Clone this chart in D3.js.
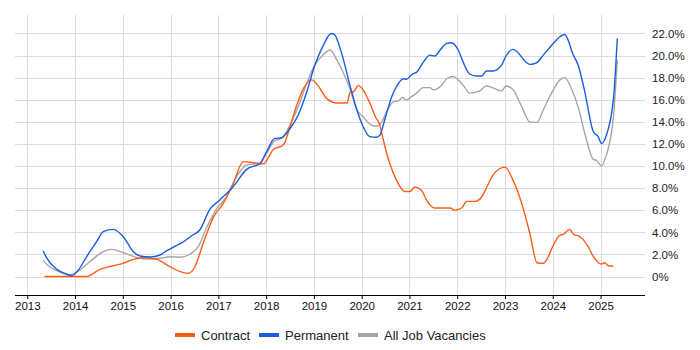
<!DOCTYPE html>
<html>

<head>
	<title>Contract, permanent and all job vacancies</title>
	<script src="https://cdn.jsdelivr.net/npm/d3@7/dist/d3.min.js"></script>
	<style>
		body { margin: 0; background: #fff; }
		svg { font-family: Arial, "Liberation Sans", sans-serif; }
		.grid line { stroke: #dcdcdc; stroke-width: 1px; shape-rendering: crispEdges; }
		.series { fill: none; stroke-width: 1.4px; }
	</style>
</head>

<body>
	<svg id="chart" width="700" height="350"></svg>

	<script>
		// [decimal year, % share]
		var contract = [
			[2013.36, 0], [2013.8, 0], [2014.24, 0], [2014.52, 0.65], [2014.8, 0.98], [2015.0, 1.19],
			[2015.22, 1.55], [2015.43, 1.7], [2015.71, 1.55], [2015.99, 0.89], [2016.2, 0.44],
			[2016.37, 0.29], [2016.51, 0.89], [2016.68, 3.0], [2016.9, 5.4], [2017.1, 6.6],
			[2017.31, 8.4], [2017.52, 10.4], [2017.73, 10.3], [2017.94, 10.2], [2018.15, 11.5],
			[2018.36, 11.9], [2018.5, 13.6], [2018.64, 15.5], [2018.78, 17.0], [2018.95, 17.8],
			[2019.13, 17.0], [2019.27, 16.1], [2019.48, 15.7], [2019.69, 15.7], [2019.76, 16.7],
			[2019.82, 16.7], [2019.93, 17.3], [2020.03, 16.9], [2020.17, 15.7], [2020.28, 14.5],
			[2020.38, 13.7], [2020.45, 12.4], [2020.59, 10.2], [2020.73, 8.7], [2020.9, 7.7],
			[2021.01, 7.7], [2021.11, 8.1], [2021.25, 7.8], [2021.36, 6.9], [2021.53, 6.2],
			[2021.67, 6.2], [2021.85, 6.2], [2021.95, 6.0], [2022.09, 6.2], [2022.2, 6.8],
			[2022.37, 6.8], [2022.51, 7.2], [2022.62, 8.1], [2022.75, 9.2], [2023.0, 9.9],
			[2023.17, 8.7], [2023.35, 6.6], [2023.52, 3.9], [2023.67, 1.25], [2023.79, 1.19],
			[2023.87, 1.49], [2023.98, 2.55], [2024.15, 3.75], [2024.22, 3.82], [2024.35, 4.27],
			[2024.46, 3.75], [2024.53, 3.7], [2024.74, 2.7], [2024.85, 1.8], [2025.02, 1.13],
			[2025.09, 1.25], [2025.16, 0.98], [2025.27, 0.95]
		];

		var permanent = [
			[2013.33, 2.34], [2013.41, 1.65], [2013.62, 0.65], [2013.82, 0.23], [2013.93, 0.07],
			[2014.07, 0.59], [2014.24, 1.79], [2014.45, 3.15], [2014.59, 4.06], [2014.8, 4.27],
			[2015.01, 3.6], [2015.22, 2.25], [2015.36, 1.86], [2015.57, 1.77], [2015.78, 1.95],
			[2015.92, 2.34], [2016.13, 2.82], [2016.27, 3.15], [2016.44, 3.69], [2016.61, 4.21],
			[2016.82, 6.08], [2017.03, 6.93], [2017.31, 8.13], [2017.59, 9.7], [2017.87, 10.24],
			[2018.01, 11.3], [2018.18, 12.5], [2018.32, 12.56], [2018.5, 13.4], [2018.67, 14.6],
			[2018.85, 16.7], [2019.02, 19.15], [2019.2, 20.95], [2019.36, 22.0], [2019.43, 21.9],
			[2019.58, 20.2], [2019.76, 17.2], [2019.9, 15.07], [2020.0, 13.87], [2020.17, 12.66],
			[2020.31, 12.6], [2020.38, 12.8], [2020.49, 14.3], [2020.63, 16.3], [2020.73, 17.2],
			[2020.87, 17.9], [2020.94, 17.85], [2021.05, 18.3], [2021.15, 18.5], [2021.29, 19.4],
			[2021.43, 20.04], [2021.53, 19.96], [2021.64, 20.5], [2021.78, 21.1], [2021.88, 21.16],
			[2022.02, 20.5], [2022.12, 19.44], [2022.26, 18.33], [2022.4, 18.15], [2022.51, 18.15],
			[2022.61, 18.6], [2022.75, 18.6], [2022.93, 19.15], [2023.02, 19.96], [2023.17, 20.56],
			[2023.52, 19.2], [2023.66, 19.34], [2023.8, 20.04], [2024.01, 21.1], [2024.15, 21.7],
			[2024.25, 21.9], [2024.43, 20.04], [2024.53, 19.15], [2024.67, 16.72], [2024.85, 13.1],
			[2024.95, 12.66], [2025.02, 12.05], [2025.11, 12.66], [2025.27, 16.1], [2025.35, 21.55]
		];

		var allJobs = [
			[2013.33, 1.49], [2013.44, 0.98], [2013.62, 0.53], [2013.89, 0.14], [2014.1, 0.59],
			[2014.31, 1.34], [2014.59, 2.25], [2014.77, 2.46], [2015.01, 2.15], [2015.29, 1.74],
			[2015.5, 1.58], [2015.78, 1.65], [2015.99, 1.79], [2016.2, 1.74], [2016.41, 2.04],
			[2016.58, 2.7], [2016.76, 4.5], [2016.97, 6.17], [2017.17, 7.22], [2017.38, 9.03],
			[2017.59, 10.1], [2017.87, 10.24], [2018.01, 11.15], [2018.18, 12.3], [2018.32, 12.5],
			[2018.5, 13.7], [2018.67, 15.37], [2018.85, 17.5], [2019.02, 19.15], [2019.2, 20.1],
			[2019.34, 20.5], [2019.48, 19.6], [2019.62, 18.4], [2019.76, 16.9], [2019.9, 15.07],
			[2020.03, 14.46], [2020.17, 13.8], [2020.31, 13.6], [2020.42, 14.0], [2020.52, 14.9],
			[2020.66, 15.8], [2020.77, 15.9], [2020.86, 16.2], [2020.93, 15.97], [2021.05, 16.3],
			[2021.15, 16.6], [2021.29, 17.1], [2021.43, 17.1], [2021.5, 16.9], [2021.67, 17.3],
			[2021.78, 17.9], [2021.92, 18.1], [2022.02, 17.8], [2022.16, 17.1], [2022.26, 16.6],
			[2022.47, 16.8], [2022.61, 17.25], [2022.93, 16.8], [2023.02, 17.25], [2023.17, 16.9],
			[2023.35, 15.37], [2023.52, 14.0], [2023.67, 13.95], [2023.8, 15.07], [2024.01, 16.9],
			[2024.15, 17.8], [2024.25, 18.0], [2024.39, 17.0], [2024.53, 15.37], [2024.67, 12.95],
			[2024.85, 10.6], [2024.92, 10.5], [2025.02, 10.0], [2025.11, 10.85], [2025.27, 14.5],
			[2025.35, 19.6]
		];

		var yearTicks = d3.range(2013, 2026);
		var pctTicks = d3.range(0, 23, 2);
		var legendNames = ['Contract', 'Permanent', 'All Job Vacancies'];
		var colors = ['#ff5c17', '#1a5cdf', '#a6a6a6'];

		var svg = d3.select('#chart'),
			plotLeft = 15, plotRight = 645, plotTop = 15, plotBottom = 295;

		var x = d3.scaleLinear()
			.domain([2012.743, 2025.93])
			.range([plotLeft, plotRight]);

		var y = d3.scaleLinear()
			.domain([-1.67, 23.67])
			.range([plotBottom, plotTop]);

		// gridlines
		var grid = svg.append('g').attr('class', 'grid');
		grid.selectAll('.vg')
			.data(yearTicks)
			.enter()
			.append('line')
			.attr('x1', d => Math.round(x(d)) + 0.5)
			.attr('x2', d => Math.round(x(d)) + 0.5)
			.attr('y1', plotTop)
			.attr('y2', plotBottom);
		grid.selectAll('.hg')
			.data(pctTicks)
			.enter()
			.append('line')
			.attr('x1', plotLeft)
			.attr('x2', plotRight)
			.attr('y1', d => Math.round(y(d)) + 0.5)
			.attr('y2', d => Math.round(y(d)) + 0.5);

		// x axis
		var xAxis = svg.append('g')
			.attr('transform', 'translate(0,' + plotBottom + ')')
			.call(d3.axisBottom(x).tickValues(yearTicks).tickFormat(d3.format('d')).tickSize(4).tickPadding(3))
			.call(g => g.select('.domain').attr('d', 'M' + plotLeft + ',0.5H' + plotRight).attr('stroke', '#000'));
		xAxis.selectAll('text').attr('font-size', '11.5px').attr('fill', '#111').attr('font-family', null);
		xAxis.selectAll('.tick line').attr('stroke', '#000');

		// y axis labels on the right
		var yAxis = svg.append('g')
			.attr('transform', 'translate(' + plotRight + ',0)')
			.call(d3.axisRight(y).tickValues(pctTicks)
				.tickFormat(d => d === 0 ? '0%' : d3.format('.1f')(d) + '%')
				.tickSize(0).tickPadding(7))
			.call(g => g.select('.domain').remove());
		yAxis.selectAll('text').attr('font-size', '11.5px').attr('fill', '#222').attr('font-family', null);

		var line = d3.line()
			.x(d => x(d[0]))
			.y(d => y(d[1]))
			.curve(d3.curveMonotoneX);

		[allJobs, contract, permanent].forEach((s, i) => {
			var c = [colors[2], colors[0], colors[1]][i];
			svg.append('path')
				.datum(s)
				.attr('class', 'series')
				.attr('stroke', c)
				.attr('d', line);
		});

		// legend
		var legendX = [175, 259, 358];
		var legend = svg.selectAll('.legend')
			.data(legendNames)
			.enter()
			.append('g')
			.attr('transform', (d, i) => 'translate(' + legendX[i] + ',335)');
		legend.append('rect')
			.attr('x', 0)
			.attr('y', -2)
			.attr('width', 20)
			.attr('height', 4)
			.attr('fill', (d, i) => colors[i]);
		legend.append('text')
			.attr('x', 26)
			.attr('y', 0)
			.attr('dy', '0.35em')
			.attr('font-size', '13px')
			.attr('fill', '#222')
			.text(d => d);
	</script>
</body>

</html>
